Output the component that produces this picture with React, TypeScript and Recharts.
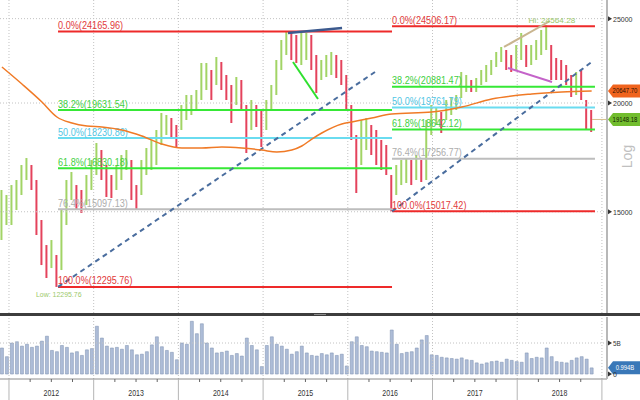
import React from 'react';
import { ComposedChart, Bar, Line, XAxis, YAxis, ReferenceLine, ReferenceDot, Cell } from 'recharts';

const FONT = '"Liberation Sans", Arial, sans-serif';

// time axis in decimal years, plot runs from late 2011 to just past the start of 2019
const X0 = 2011.894;
const X1 = 2019.06;
const FIRST_BAR = 2011.917;
const BAR_STEP = 0.059; // one bar is about three weeks
const PRICE_DOMAIN = [11476, 26264];

const barHighs = [
  15888, 15679, 16099, 16314, 16974, 17291, 16974, 16314, 14676, 13736,
  13919, 13378, 15069, 16314, 16663, 16099, 15888, 16531, 17200, 17992,
  17661, 16974, 16531, 16974, 17429, 17661, 17200, 16099, 17200, 17756,
  18135, 18622, 19478, 19375, 19222, 18869, 19894, 20428, 20428, 20700,
  22233, 22233, 21824, 22589, 22292, 21538, 20975, 21424, 21254, 19894,
  20159, 19894, 19633, 20159, 20975, 22410, 23628, 24166, 24166, 23942,
  24069, 24069, 23942, 22708, 22410, 22708, 22889, 22708, 22410, 21538,
  19894, 18377, 19120, 19222, 18869, 18622, 18135, 17897, 16531, 16974,
  17200, 17291, 17200, 17429, 17200, 19120, 19894, 19738, 19529, 20159,
  20320, 20428, 21710, 21538, 21254, 21367, 21824, 22115, 22410, 22889,
  23194, 23010, 22708, 23317, 24069, 23317, 23317, 23628, 24260, 24560,
  23317, 22529, 22410, 22115, 21538, 21710, 21824, 20159, 19633,
];

const barLows = [
  13919, 14483, 14483, 15069, 15679, 16314, 15888, 14105, 13028, 12589,
  12925, 12296, 12857, 14483, 15473, 15069, 14950, 15270, 15888, 16531,
  16314, 15597, 15556, 15888, 16314, 16751, 15473, 15069, 15679, 16531,
  16751, 16974, 17897, 18377, 18230, 17803, 18622, 19120, 19375, 19633,
  20159, 20700, 20159, 20975, 20700, 20159, 18970, 19894, 19633, 17522,
  18622, 18770, 17803, 18622, 19633, 20428, 21824, 22708, 22410, 22233,
  22115, 22410, 21824, 20537, 21254, 21424, 21538, 21367, 20975, 19633,
  18135, 15762, 16974, 17661, 17429, 16974, 16751, 16531, 15017, 15679,
  16099, 16185, 16099, 16314, 16228, 16314, 18377, 18869, 18475, 19120,
  19375, 19633, 20266, 20591, 20591, 20591, 20975, 21142, 21538, 21998,
  22292, 21824, 21710, 21824, 22410, 21998, 22115, 22410, 22708, 23010,
  21254, 21254, 21254, 20975, 20320, 20428, 20159, 18622, 18524,
];

// volume in billions
const barVolumes = [
  4.2, 2.8, 5.0, 5.2, 4.5, 4.8, 4.3, 4.5, 5.3, 6.1,
  3.8, 3.6, 4.6, 4.3, 3.4, 3.6, 3.0, 3.9, 4.1, 7.7,
  5.8, 4.5, 4.2, 4.3, 4.0, 4.6, 3.9, 3.1, 3.2, 3.6,
  4.7, 6.0, 4.4, 3.8, 3.5, 2.3, 5.0, 4.8, 8.5, 6.5,
  8.1, 5.0, 4.2, 3.4, 3.5, 3.7, 3.0, 3.3, 2.9, 5.8,
  4.6, 3.9, 1.2, 4.6, 6.0, 4.8, 4.5, 4.0, 3.2, 3.6,
  4.5, 3.4, 3.0, 2.9, 3.3, 3.1, 3.4, 3.0, 3.2, 1.3,
  5.2, 6.0, 4.6, 4.4, 3.7, 3.6, 3.5, 3.4, 7.1, 4.8,
  3.3, 3.5, 3.6, 4.2, 5.5, 6.2, 3.1, 3.0, 2.7, 2.6,
  2.5, 2.4, 2.6, 2.3, 2.2, 1.8, 1.6, 1.8, 2.0, 2.1,
  1.9, 2.4, 2.2, 2.0, 1.9, 3.4, 2.5, 2.7, 2.6, 4.2,
  2.8, 2.0, 1.9, 1.8, 2.2, 2.6, 2.8, 2.4, 0.994,
];

// 200 day moving average, read at some of the bars
const maBarIndex = [0, 4, 8, 11, 14, 17, 20, 24, 28, 32, 36, 40, 44, 48, 52, 55, 58, 60, 62, 64, 68, 70, 74, 78, 86, 92, 98, 106, 112, 118];
const maValues = [
  21998, 21030, 20053, 19273, 18970, 18820, 18770, 18622, 18328, 17944,
  17756, 17756, 17803, 17756, 17661, 17567, 17661, 17850, 18180, 18475,
  18920, 19020, 19222, 19427, 19529, 19790, 20213, 20483, 20591, 20647.7,
];

const fibNames = ['0.0%', '38.2%', '50.0%', '61.8%', '76.4%', '100.0%'];
const fib2012Levels = [24165.96, 19631.54, 18230.86, 16830.18, 15097.13, 12295.76];
const fib2012Span = [2012.579, 2016.522];
const fib2016Levels = [24506.17, 20881.47, 19761.79, 18642.12, 17256.77, 15017.42];
const fib2016Span = [2016.522, 2018.918];

// drawn trend lines: [date, value] pairs
const trendUp2012 = [[2012.579, 12295.76], [2016.321, 21710]];
const trendUp2016 = [[2016.522, 15017.42], [2018.895, 22351]];
const top2015 = [[2015.294, 24069], [2015.932, 24390]];
const dip2015 = [[2015.353, 22292], [2015.648, 20213]];
const top2018 = [[2017.844, 23194], [2018.387, 24845]];
const dip2018 = [[2017.891, 21940], [2018.411, 21142]];

const lowPoint = [2012.579, 12295.76];
const highPoint = [2018.352, 24560];
const lowText = 'Low: 12295.76';
const highText = 'Hi: 24564.28';

const yearTicks = [2012, 2013, 2014, 2015, 2016, 2017, 2018, 2019];
const priceTicks = [15000, 20000, 25000];
const volumeTicks = [0, 5];
const lastPrice = 19148.18;
const lastMa = 20647.7;
const lastVolume = 0.994;
const lastBarDate = 2018.883;

const FIB_LINE = ['#ee2a2a', '#36e836', '#6adcf0', '#36e836', '#bdbdbd', '#ee2a2a'];
const FIB_TEXT = ['#e23a3a', '#3fcf3f', '#52c6e4', '#3fcf3f', '#adadad', '#e23a3a'];
const UP = '#a2d466';
const DOWN = '#e4435c';
const GRID = '#c2c2c2';

const bars = barHighs.map((h, i) => ({
  t: FIRST_BAR + i * BAR_STEP,
  range: [barLows[i], h],
  vol: barVolumes[i],
  up: i === 0 || h + barLows[i] >= barHighs[i - 1] + barLows[i - 1],
}));

const maPoints = maBarIndex.map((b, k) => ({ t: FIRST_BAR + b * BAR_STEP, v: maValues[k] }));

const fibSets = [
  { levels: fib2012Levels, span: fib2012Span },
  { levels: fib2016Levels, span: fib2016Span },
];

const trendLines = [
  { pts: trendUp2012, color: '#4a6d9e', width: 2, dash: '5 4' },
  { pts: trendUp2016, color: '#4a6d9e', width: 2, dash: '5 4' },
  { pts: top2015, color: '#3c5a8e', width: 2.5, dash: undefined },
  { pts: dip2015, color: '#2fe02f', width: 2, dash: undefined },
  { pts: top2018, color: '#c9b58f', width: 2, dash: undefined },
  { pts: dip2018, color: '#c463c9', width: 2, dash: undefined },
];

const quarterTicks = yearTicks
  .slice(0, -1)
  .flatMap((y) => [y, y + 0.25, y + 0.5, y + 0.75])
  .concat(yearTicks[yearTicks.length - 1]);

// the original uses a condensed font, so squeeze the text to its width
const Txt = ({ x, y, size, fill, perChar, anchor, children }: any) => (
  <text
    x={x}
    y={y}
    fontSize={size}
    fill={fill}
    fontFamily={FONT}
    textAnchor={anchor || 'start'}
    textLength={String(children).length * perChar}
    lengthAdjust="spacingAndGlyphs"
  >
    {children}
  </text>
);

const SideTick = (p: any) => {
  const v = p.payload.value;
  const txt = p.unit === 'B' ? (v === 0 ? '0' : `${v}B`) : `${v}`;
  return (
    <g>
      <polygon points={`${p.x + 1},${p.y - 2.5} ${p.x + 5},${p.y} ${p.x + 1},${p.y + 2.5}`} fill="#333" />
      <Txt x={p.x + 6} y={p.y + 3} size={8} fill="#333" perChar={3.9}>{txt}</Txt>
    </g>
  );
};

const TimeTick = (p: any) => {
  const v = p.payload.value;
  const q = Math.round((v - Math.floor(v)) * 4);
  return (
    <g>
      <line x1={p.x} x2={p.x} y1={p.y} y2={q === 0 ? p.y + 21 : p.y + 3} stroke={q === 0 ? '#b5b5b5' : '#666'} />
      {q === 2 && (
        <Txt x={p.x} y={p.y + 17} size={9} fill="#333" perChar={3.9} anchor="middle">{Math.floor(v)}</Txt>
      )}
    </g>
  );
};

const valueBox = (text: string, fill: string, color: string) => (p: any) => (
  <g>
    <polygon
      points={`${p.cx + 1},${p.cy} ${p.cx + 6},${p.cy - 6.5} ${p.cx + 33},${p.cy - 6.5} ${p.cx + 33},${p.cy + 6.5} ${p.cx + 6},${p.cy + 6.5}`}
      fill={fill}
    />
    <Txt x={p.cx + 18} y={p.cy + 2.5} size={7} fill={color} perChar={3.1} anchor="middle">{text}</Txt>
  </g>
);

const App = () => (
  <div style={{ position: 'absolute', left: 0, top: 0, width: 640, height: 400, background: '#fff' }}>
    <ComposedChart width={640} height={313} data={bars} margin={{ top: 0, right: 0, bottom: 0, left: 0 }}>
      <XAxis type="number" dataKey="t" domain={[X0, X1]} allowDataOverflow hide />
      <YAxis
        orientation="right"
        scale="log"
        domain={PRICE_DOMAIN}
        allowDataOverflow
        width={33}
        ticks={priceTicks}
        interval={0}
        tick={<SideTick />}
        tickLine={false}
        tickSize={0}
        tickMargin={0}
        axisLine={{ stroke: '#b8b8b8', strokeWidth: 2 }}
        label={{ value: 'Log', angle: -90, position: 'center', dx: 4, fill: '#c0c0c0', fontSize: 14, fontFamily: FONT }}
      />
      {yearTicks.map((y) => (
        <ReferenceLine key={`vx${y}`} x={y} stroke={GRID} strokeDasharray="1 2" />
      ))}
      {priceTicks.map((v) => (
        <ReferenceLine key={`hy${v}`} y={v} stroke={GRID} strokeDasharray="1 2" />
      ))}
      {fibSets.map((set, s) =>
        set.levels.map((lv, k) => (
          <ReferenceLine
            key={`fib${s}-${k}`}
            segment={[{ x: set.span[0], y: lv }, { x: set.span[1], y: lv }]}
            stroke={FIB_LINE[k]}
            strokeWidth={2}
          />
        ))
      )}
      <Bar dataKey="range" barSize={2} isAnimationActive={false}>
        {bars.map((b, i) => (
          <Cell key={`c${i}`} fill={b.up ? UP : DOWN} />
        ))}
      </Bar>
      {trendLines.map((tl, i) => (
        <ReferenceLine
          key={`tl${i}`}
          segment={[{ x: tl.pts[0][0], y: tl.pts[0][1] }, { x: tl.pts[1][0], y: tl.pts[1][1] }]}
          stroke={tl.color}
          strokeWidth={tl.width}
          strokeDasharray={tl.dash}
        />
      ))}
      <ReferenceLine segment={[{ x: lastBarDate, y: lastPrice }, { x: X1, y: lastPrice }]} stroke="#d6c08c" ifOverflow="visible" />
      {fibSets.map((set, s) =>
        set.levels.map((lv, k) => (
          <ReferenceDot
            key={`fl${s}-${k}`}
            x={set.span[0]}
            y={lv}
            r={0}
            ifOverflow="visible"
            shape={(p: any) => (
              <Txt x={p.cx} y={p.cy - 2.5} size={10.5} fill={FIB_TEXT[k]} perChar={4.65}>
                {`${fibNames[k]}(${lv.toFixed(2)})`}
              </Txt>
            )}
          />
        ))
      )}
      <ReferenceDot
        x={lowPoint[0]}
        y={lowPoint[1]}
        r={0}
        ifOverflow="visible"
        shape={(p: any) => (
          <Txt x={p.cx - 22} y={p.cy + 10} size={8} fill="#9cc96a" perChar={3.5}>{lowText}</Txt>
        )}
      />
      <ReferenceDot
        x={highPoint[0]}
        y={highPoint[1]}
        r={0}
        ifOverflow="visible"
        shape={(p: any) => (
          <Txt x={p.cx + 5} y={p.cy - 2.5} size={8} fill="#9cc96a" perChar={3.9} anchor="middle">{highText}</Txt>
        )}
      />
      <ReferenceDot x={X1} y={lastMa} r={0} ifOverflow="visible" shape={valueBox(lastMa.toFixed(2), '#f0641e', '#2a1000')} />
      <ReferenceDot x={X1} y={lastPrice} r={0} ifOverflow="visible" shape={valueBox(lastPrice.toFixed(2), '#72bd2e', '#102000')} />
    </ComposedChart>

    {/* moving average drawn on its own layer with the same scales */}
    <div style={{ position: 'absolute', left: 0, top: 0, pointerEvents: 'none' }}>
      <ComposedChart width={640} height={313} data={maPoints} margin={{ top: 0, right: 33, bottom: 0, left: 0 }}>
        <XAxis type="number" dataKey="t" domain={[X0, X1]} allowDataOverflow hide />
        <YAxis scale="log" domain={PRICE_DOMAIN} allowDataOverflow hide />
        <Line dataKey="v" type="monotone" stroke="#f07a26" strokeWidth={1.5} dot={false} activeDot={false} isAnimationActive={false} />
      </ComposedChart>
    </div>

    <div style={{ position: 'absolute', left: 0, top: 313, width: 640, height: 3, background: '#3d3d3d' }} />
    <div style={{ position: 'absolute', left: 314, top: 314, width: 12, height: 1, background: '#8a8a8a' }} />

    <div style={{ position: 'absolute', left: 0, top: 317 }}>
      <ComposedChart width={640} height={83} data={bars} margin={{ top: 0, right: 0, bottom: 0, left: 0 }}>
        <XAxis
          type="number"
          dataKey="t"
          domain={[X0, X1]}
          allowDataOverflow
          ticks={quarterTicks}
          interval={0}
          tick={<TimeTick />}
          tickLine={false}
          tickSize={0}
          tickMargin={0}
          height={21}
          axisLine={{ stroke: '#8c8c8c' }}
        />
        <YAxis
          orientation="right"
          domain={[-0.8, 9.19]}
          allowDataOverflow
          width={33}
          ticks={volumeTicks}
          interval={0}
          tick={<SideTick unit="B" />}
          tickLine={false}
          tickSize={0}
          tickMargin={0}
          axisLine={{ stroke: '#b8b8b8', strokeWidth: 2 }}
        />
        {yearTicks.map((y) => (
          <ReferenceLine key={`vv${y}`} x={y} stroke={GRID} strokeDasharray="1 2" />
        ))}
        <ReferenceLine y={5} stroke={GRID} strokeDasharray="1 2" />
        <Bar dataKey="vol" barSize={3} fill="#adbcd7" stroke="#7a8eae" strokeWidth={0.5} isAnimationActive={false} />
        <ReferenceDot x={X1} y={lastVolume} r={0} ifOverflow="visible" shape={valueBox('0.994B', '#3a78b8', '#ffffff')} />
      </ComposedChart>
    </div>
  </div>
);

export default App;
